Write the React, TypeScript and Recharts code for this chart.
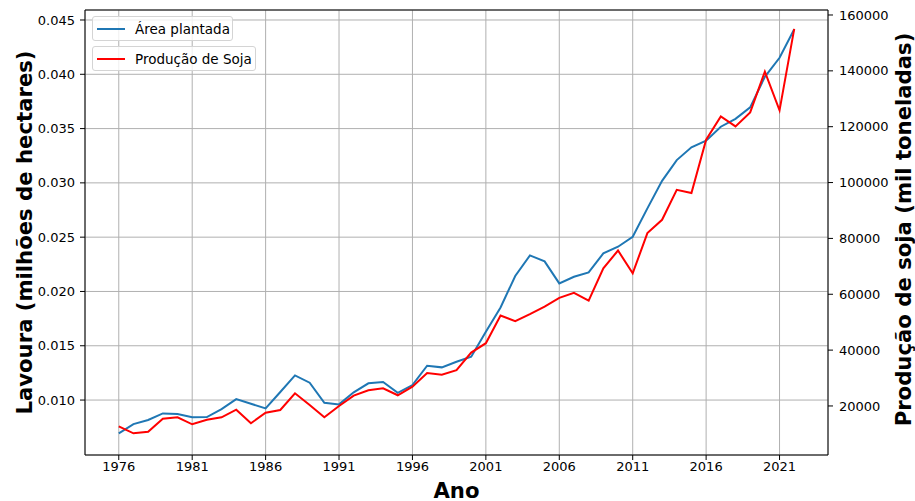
import { LineChart, Line, XAxis, YAxis, CartesianGrid, Legend, ReferenceLine } from "recharts"

const anos = [
  1976, 1977, 1978, 1979, 1980, 1981, 1982, 1983, 1984, 1985,
  1986, 1987, 1988, 1989, 1990, 1991, 1992, 1993, 1994, 1995,
  1996, 1997, 1998, 1999, 2000, 2001, 2002, 2003, 2004, 2005,
  2006, 2007, 2008, 2009, 2010, 2011, 2012, 2013, 2014, 2015,
  2016, 2017, 2018, 2019, 2020, 2021, 2022,
]

// milhões de hectares
const areaPlantada = [
  0.00693, 0.00779, 0.00816, 0.00877, 0.00871, 0.00841, 0.00843, 0.00917, 0.01009, 0.00966,
  0.00923, 0.01074, 0.01227, 0.0116, 0.00975, 0.0096, 0.01071, 0.01154, 0.01166, 0.01067,
  0.01138, 0.01316, 0.01301, 0.01353, 0.01399, 0.01629, 0.01853, 0.02142, 0.02332, 0.02277,
  0.02074, 0.02135, 0.02176, 0.02351, 0.02412, 0.02504, 0.02765, 0.03019, 0.0321, 0.03327,
  0.03388, 0.03517, 0.0359, 0.03695, 0.03977, 0.04152, 0.04414,
]

// mil toneladas
const producaoSoja = [
  12720, 10210, 10790, 15450, 15950, 13440, 15090, 15950, 18680, 13800,
  17600, 18570, 24550, 20360, 15950, 20000, 23700, 25630, 26340, 23830,
  26920, 31830, 31220, 32790, 39100, 42470, 52360, 50360, 52860, 55590,
  58700, 60500, 57740, 69300, 75660, 67500, 81890, 86660, 97410, 96230,
  115340, 123690, 120100, 125120, 139710, 125840, 155010,
]

const anoTicks = [1976, 1981, 1986, 1991, 1996, 2001, 2006, 2011, 2016, 2021]
const lavouraTicks = [0.01, 0.015, 0.02, 0.025, 0.03, 0.035, 0.04, 0.045]
const sojaTicks = [20000, 40000, 60000, 80000, 100000, 120000, 140000, 160000]

const data = anos.map((ano, i) => ({ ano, area: areaPlantada[i], soja: producaoSoja[i] }))

const FONT = "DejaVu Sans"
const TITLE_SIZE = 21.2
const tickStyle = { fontFamily: FONT, fontSize: 13, fill: "#000" }

// axis title drawn inside the axis box; dy null = vertically centred
const axisTitle = (text: string, dx: number, dy: number | null, rotate: boolean, shift = 0) => (props: any) => {
  const vb = props.viewBox
  const x = vb.x + dx
  const y = (dy === null ? vb.y + vb.height / 2 : vb.y + dy) + shift
  return (
    <text
      x={x}
      y={y}
      textAnchor="middle"
      dominantBaseline="central"
      transform={rotate ? `rotate(-90 ${x} ${y})` : undefined}
      style={{ fontFamily: FONT, fontSize: TITLE_SIZE, fontWeight: "bold", fill: "#000" }}
    >
      {text}
    </text>
  )
}

const legendBox = (label: string, color: string, top: number, width: number) => (
  <div
    style={{
      position: "absolute",
      left: 0,
      top,
      width,
      height: 25,
      boxSizing: "border-box",
      border: "1px solid #d4d4d4",
      borderRadius: 3,
      background: "rgba(255,255,255,0.8)",
      display: "flex",
      alignItems: "center",
      fontFamily: FONT,
      fontSize: 13.5,
      color: "#000",
      whiteSpace: "nowrap",
    }}
  >
    <span style={{ display: "inline-block", width: 28, height: 2, background: color, marginLeft: 4, marginRight: 10 }} />
    {label}
  </div>
)

const renderLegend = () => (
  <div style={{ position: "relative", width: 170, height: 60 }}>
    {legendBox("Área plantada", "#1f77b4", 0, 141)}
    {legendBox("Produção de Soja", "#ff0000", 30, 164)}
  </div>
)

export default function App() {
  return (
    <div style={{ position: "absolute", left: 0, top: 0, background: "#fff" }}>
      <LineChart width={915} height={501} data={data} margin={{ top: 10, right: 0, bottom: 0, left: 0 }}>
        <CartesianGrid yAxisId="left" stroke="#b0b0b0" strokeWidth={1} />
        <XAxis
          dataKey="ano"
          type="number"
          domain={[1973.7, 2024.3]}
          ticks={anoTicks}
          height={46}
          tick={tickStyle}
          tickSize={5}
          tickMargin={2}
          stroke="#000"
          label={{ content: axisTitle("Ano", 371.5, 35, false) }}
        />
        <YAxis
          yAxisId="left"
          orientation="left"
          width={85}
          domain={[0.00494, 0.04592]}
          ticks={lavouraTicks}
          tickFormatter={(v: number) => v.toFixed(3)}
          tick={tickStyle}
          tickSize={5}
          tickMargin={5}
          stroke="#000"
          allowDataOverflow
          label={{ content: axisTitle("Lavoura (milhões de hectares)", 24, null, true) }}
        />
        <YAxis
          yAxisId="right"
          orientation="right"
          width={87}
          domain={[2440, 161790]}
          ticks={sojaTicks}
          tick={tickStyle}
          tickSize={5}
          tickMargin={6}
          stroke="#000"
          allowDataOverflow
          label={{ content: axisTitle("Produção de soja (mil toneladas)", 75, null, true, -3) }}
        />
        <ReferenceLine yAxisId="left" y={0.04592} stroke="#000" strokeWidth={1} />
        <Line
          yAxisId="left"
          type="linear"
          dataKey="area"
          stroke="#1f77b4"
          strokeWidth={2}
          dot={false}
          isAnimationActive={false}
        />
        <Line
          yAxisId="right"
          type="linear"
          dataKey="soja"
          stroke="#ff0000"
          strokeWidth={2}
          dot={false}
          isAnimationActive={false}
        />
        <Legend
          layout="horizontal"
          verticalAlign="middle"
          align="center"
          content={renderLegend}
          wrapperStyle={{ top: 16, left: 92, width: 170 }}
        />
      </LineChart>
    </div>
  )
}
